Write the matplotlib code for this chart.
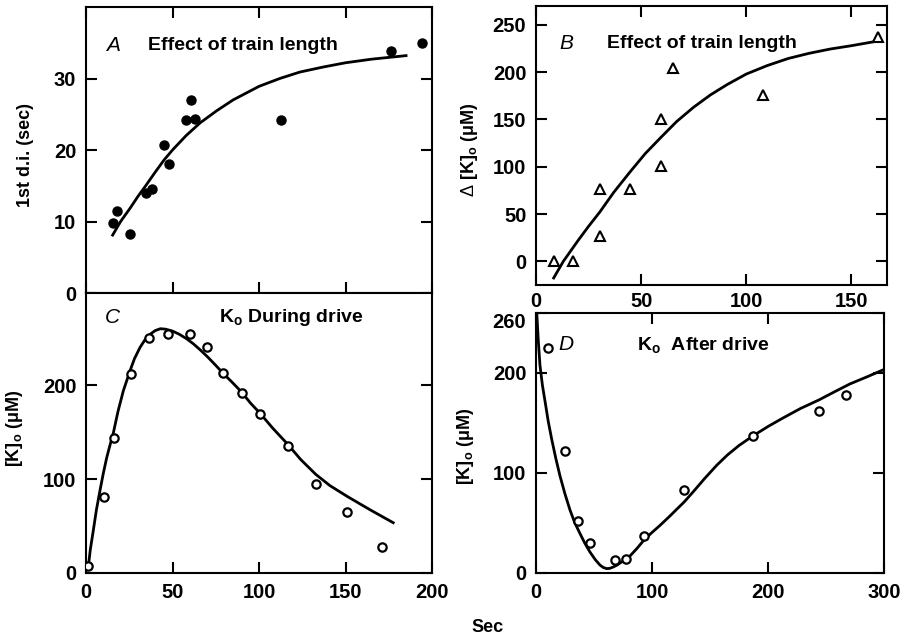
import matplotlib
matplotlib.use('Agg')
import matplotlib.pyplot as plt

plt.rcParams['font.family'] = ['Liberation Sans', 'DejaVu Sans']
plt.rcParams['mathtext.fontset'] = 'custom'
plt.rcParams['mathtext.rm'] = 'Liberation Sans'
plt.rcParams['mathtext.bf'] = 'Liberation Sans:bold'
plt.rcParams['mathtext.it'] = 'Liberation Sans:italic'

# A: first d.i. vs train length
a_x = [15.4, 17.7, 25.6, 34.5, 38.0, 45.1, 48.0, 57.8, 60.5, 63.2, 112.7, 176.3, 194.0]
a_y = [9.8, 11.4, 8.3, 14.0, 14.5, 20.7, 18.0, 24.2, 27.0, 24.4, 24.2, 33.9, 34.9]
a_fit_x = [15.4, 20, 25.6, 30, 34.5, 40, 45.1, 50, 57.8, 66, 75.6, 85, 100, 112, 123.6,
           137, 150, 165, 185]
a_fit_y = [8.1, 10.0, 11.9, 13.5, 15.0, 16.9, 18.6, 20.0, 22.0, 23.8, 25.5, 27.0, 28.9, 30.0, 30.9,
           31.6, 32.2, 32.7, 33.2]

# B: delta [K]o vs train length
b_x = [8.4, 17.5, 30.3, 30.3, 44.9, 59.4, 59.4, 65.1, 108.1, 162.6]
b_y = [0, 0, 76, 26.5, 76, 151, 101, 204, 175.5, 237.7]
b_fit_x = [8.4, 13, 20, 25, 30.3, 37, 44.9, 52, 59.4, 67, 75, 83, 91, 100, 110, 120, 130,
           140, 150, 160.2]
b_fit_y = [-17.6, 0, 22, 37, 52, 73, 95, 114, 131, 148, 163, 176, 187, 198, 207, 214.5, 220,
           224.5, 228, 232]

# C: [K]o during drive
c_x = [1.3, 10.6, 16.4, 26.0, 36.6, 47.6, 60.1, 69.9, 79.0, 90.2, 100.6, 116.6, 132.8, 151.0, 171.3]
c_y = [7, 80.6, 143.6, 212, 249.6, 254.5, 253.9, 240.7, 213, 192, 169.4, 135.4, 95.1, 65.4, 28]
c_fit_x = [1.3, 2.5, 4.2, 6, 8.1, 10, 12, 14, 15.8, 18.5, 21.6, 25.4, 28, 31.2, 34, 37, 40, 43,
           46, 50, 54, 58, 62, 66, 70, 75, 79, 85, 90.2, 95, 100.6, 108, 116.6, 124, 132.8,
           141, 151, 164, 177.6]
c_fit_y = [6, 25, 45, 67, 88, 106, 123, 137, 149, 172, 194, 215, 228, 240, 248, 254, 258, 260,
           259.5, 257.5, 254, 249.5, 244, 237.5, 230.5, 221, 213, 202, 192, 181, 170, 154, 137, 121, 105,
           93, 81.5, 67.5, 53.5]

# D: [K]o after drive
d_x = [10.0, 25.0, 35.9, 46.8, 68.0, 77.2, 93.0, 127.7, 186.9, 243.8, 267.0]
d_y = [225, 121.7, 51.8, 29.6, 12.8, 14.1, 36.7, 83.4, 137.5, 161.7, 177.8]
d_fit_x = [0.6, 2, 3.4, 5.5, 7.75, 10.5, 13.5, 17, 20.7, 25, 29.3, 33.5, 37.9, 42, 46.5, 51,
           55.1, 58, 60.9, 63.5, 66.6, 70, 75, 81, 87, 92.4, 99, 106.8, 115, 122, 127.7, 135,
           145, 155.6, 165, 175, 186.9, 200, 212.9, 228, 243.8, 257, 270.5, 285, 299]
d_fit_y = [261.5, 232, 208, 188, 172, 152, 134, 115, 97, 79, 63, 50, 39.5, 30, 21, 13.5,
           8, 5.5, 4.4, 4.6, 6, 8, 12, 17, 24.5, 32, 39.5, 47.5, 56.5, 64.5, 71, 80.5,
           94, 107.5, 118, 127.5, 137, 146.5, 155, 164.5, 173, 181, 189, 196, 203]

W, H = 907, 636


def box(l, t, r, b):
    return [l / W, 1 - b / H, (r - l) / W, (b - t) / H]


fig = plt.figure(figsize=(W / 100, H / 100), dpi=100)
ax_a = fig.add_axes(box(86, 7, 432, 293))
ax_c = fig.add_axes(box(86, 293, 432, 573))
ax_b = fig.add_axes(box(536, 6, 887, 285))
ax_d = fig.add_axes(box(536, 313, 884, 573))

txt = dict(fontsize=14, fontweight='bold', va='center')
lbl = dict(fontsize=13, fontweight='bold', rotation=90, ha='center', va='center')
let = dict(fontsize=15, style='italic', ha='center', va='center')
line_kw = dict(color='black', lw=2.0, zorder=2, solid_joinstyle='round')
open_kw = dict(ls='none', marker='o', ms=6, mfc='white', mec='black', mew=1.6, zorder=3)

for ax in (ax_a, ax_b, ax_c, ax_d):
    for s in ax.spines.values():
        s.set_linewidth(1.5)
    ax.tick_params(direction='in', length=8, width=1.5, pad=7,
                   top=True, right=True, labelsize=14.5)

# panel A
ax_a.plot(a_fit_x, a_fit_y, **line_kw)
ax_a.plot(a_x, a_y, ls='none', marker='o', ms=6.5, color='black', zorder=3)
ax_a.set_xlim(0, 200)
ax_a.set_ylim(0, 40)
ax_a.set_xticks([0, 50, 100, 150, 200])
ax_a.set_yticks([0, 10, 20, 30])
ax_a.tick_params(labelbottom=False)
ax_a.text(0.078, 0.867, 'A', transform=ax_a.transAxes, **let)
ax_a.text(0.179, 0.867, 'Effect of train length', transform=ax_a.transAxes, **txt)

# panel C
ax_c.plot(c_fit_x, c_fit_y, **line_kw)
ax_c.plot(c_x, c_y, **open_kw)
ax_c.set_xlim(0, 200)
ax_c.set_ylim(0, 298)
ax_c.set_xticks([0, 50, 100, 150, 200])
ax_c.set_yticks([0, 100, 200])
ax_c.tick_params(top=False)
ax_c.text(0.075, 0.911, 'C', transform=ax_c.transAxes, **let)
ax_c.text(0.384, 0.911, r'K$_\mathbf{o}$ During drive', transform=ax_c.transAxes, **txt)

# panel B
ax_b.plot(b_fit_x, b_fit_y, **line_kw)
ax_b.plot(b_x, b_y, ls='none', marker='^', ms=6.5, mfc='white', mec='black', mew=1.5, zorder=3)
ax_b.set_xlim(0, 167)
ax_b.set_ylim(-25, 270)
ax_b.set_xticks([0, 50, 100, 150])
ax_b.set_yticks([0, 50, 100, 150, 200, 250])
ax_b.tick_params(axis='x', pad=5)
ax_b.text(0.0855, 0.867, 'B', transform=ax_b.transAxes, **let)
ax_b.text(0.2025, 0.867, 'Effect of train length', transform=ax_b.transAxes, **txt)

# panel D
ax_d.plot(d_fit_x, d_fit_y, **line_kw)
ax_d.plot(d_x, d_y, **open_kw)
ax_d.set_xlim(0, 300)
ax_d.set_ylim(0, 260)
ax_d.set_xticks([0, 100, 200, 300])
ax_d.set_yticks([0, 100, 200, 260])
ax_d.get_yticklabels()[-1].set_va('top')
ax_d.text(0.086, 0.878, 'D', transform=ax_d.transAxes, **let)
ax_d.text(0.29, 0.878, r'K$_\mathbf{o}$  After drive', transform=ax_d.transAxes, **txt)

for ax in (ax_a, ax_b, ax_c, ax_d):
    for t in ax.get_xticklabels() + ax.get_yticklabels():
        t.set_fontweight('bold')

fig.text(0.0276, 0.756, '1st d.i. (sec)', **lbl)
fig.text(0.518, 0.764, r'$\Delta$ [K]$_\mathbf{o}$ (μM)', **lbl)
fig.text(0.0165, 0.327, r'[K]$_\mathbf{o}$ (μM)', **lbl)
fig.text(0.513, 0.299, r'[K]$_\mathbf{o}$ (μM)', **lbl)
fig.text(0.538, 0.014, 'Sec', fontsize=13, fontweight='bold', ha='center', va='center')

fig.savefig('out.png', dpi=100)
